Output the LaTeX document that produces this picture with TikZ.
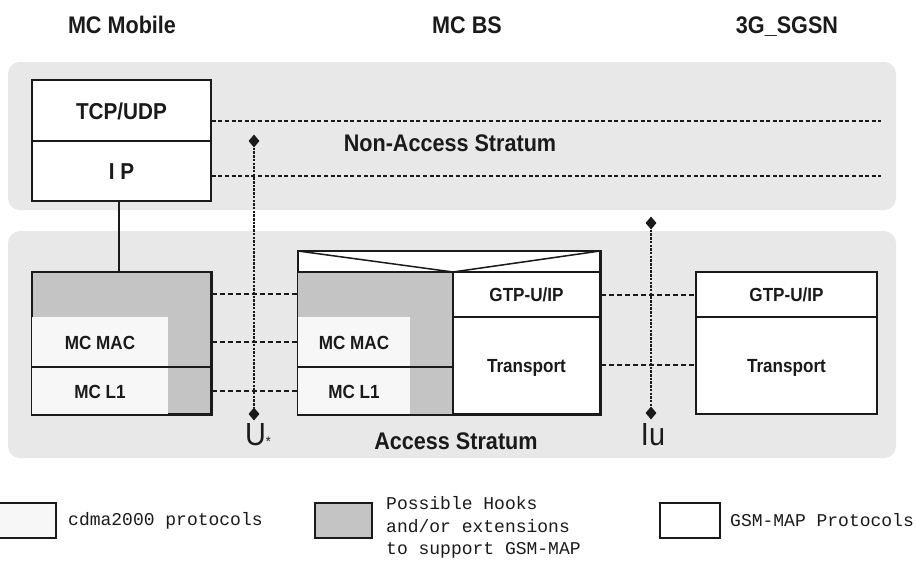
\documentclass[tikz,border=0pt]{standalone}
\usepackage{fontspec}
\setmainfont{Liberation Sans}[FakeStretch=0.9]
\newfontfamily\monof{Liberation Mono}
\usetikzlibrary{shapes.geometric}
\definecolor{panel}{HTML}{E8E8E8}
\definecolor{hook}{HTML}{C4C4C4}
\definecolor{cdma}{HTML}{F7F7F7}
\definecolor{ink}{HTML}{1A1A1A}
\tikzset{
  panelbox/.style={fill=panel, rounded corners=12pt},
  border/.style={draw=ink, line width=1.5pt},
  cell/.style={draw=ink, line width=1.5pt, inner sep=0pt},
  lbl/.style={inner sep=0pt, anchor=base, text=ink, font=\fontsize{19}{22}\selectfont\bfseries},
  biglbl/.style={inner sep=0pt, anchor=base, text=ink, font=\fontsize{23}{26}\selectfont\bfseries},
  head/.style={inner sep=0pt, anchor=base, text=ink, font=\fontsize{24}{28}\selectfont\bfseries},
  iflbl/.style={inner sep=0pt, anchor=base, text=ink, font=\fontsize{32}{36}\selectfont},
  legtxt/.style={inner sep=0pt, text=ink, anchor=west, align=left, font=\fontsize{18}{22.5}\selectfont\monof},
  peerline/.style={draw=ink, line width=1.6pt, dash pattern=on 5pt off 3pt},
  naspeer/.style={draw=ink, line width=1.5pt, dash pattern=on 4pt off 2.6pt},
  ifline/.style={draw=ink, line width=1.6pt, dash pattern=on 2.5pt off 1.2pt},
  dia/.style={diamond, fill=ink, inner sep=0pt, minimum width=11pt, minimum height=13pt},
}
\begin{document}
\begin{tikzpicture}[x=1pt, y=-1pt]
\useasboundingbox (0,0) rectangle (918,568);

% headers
\node[head] (hmob) at (122,33.5) {MC Mobile};
\node[head] (hbs) at (467,33.5) {MC BS};
\node[head] (hsg) at (787,33.5) {3G\_SGSN};

% panels
\fill[panelbox] (8,62) rectangle (896,210);
\fill[panelbox] (8,231) rectangle (896,458);

% upper mobile stack
\node[cell, fill=white, minimum width=179pt, minimum height=61pt] (tcp) at (121.5,110.5) {};
\node[cell, fill=white, minimum width=179pt, minimum height=60pt] (ip) at (121.5,171) {};
\node[biglbl] (tcpt) at (121.5,119) {TCP/UDP};
\node[biglbl] (ipt) at (121.5,179.5) {I P};

% NAS peer lines
\coordinate (nasend1) at (881,121);
\coordinate (nasend2) at (881,176);
\draw[naspeer] (tcp.east |- nasend1) -- (nasend1);
\draw[naspeer] (ip.east |- nasend2) -- (nasend2);
\node[head] (nas) at (450,151.5) {Non-Access Stratum};

% mobile lower stack
\node[cell, fill=hook, minimum width=179pt, minimum height=142pt] (mob) at (121.5,343) {};
\fill[cdma] (32,317) rectangle (168,414);
\draw[border] (32,367) -- (211,367);
\draw[border] (mob.north west) rectangle (mob.south east);
\node[lbl] (mmac) at (100,349) {MC MAC};
\node[lbl] (ml1) at (100,398) {MC L1};
\draw[border] (ip.south -| 119,0) -- (119,272);

% BS
\node[cell, fill=white, minimum width=302pt, minimum height=163pt] (bs) at (449,332.5) {};
\fill[hook] (298,272) rectangle (453,414);
\fill[cdma] (298,317) rectangle (410,414);
\draw[border] (298,272) -- (600,272);
\draw[border] (453,272) -- (453,414);
\draw[border] (298,367) -- (453,367);
\draw[border] (453,317) -- (600,317);
\draw[border] (298,251) -- (453,272) -- (600,251);
\draw[border] (bs.north west) rectangle (bs.south east);
\node[lbl] (bmac) at (354,349) {MC MAC};
\node[lbl] (bl1) at (354,398) {MC L1};
\node[lbl] (bgtp) at (526.5,301.5) {GTP-U/IP};
\node[lbl] (btr) at (526.5,372.5) {Transport};

% SGSN
\node[cell, fill=white, minimum width=181pt, minimum height=142pt] (sg) at (786.5,343) {};
\draw[border] (696,317) -- (877,317);
\node[lbl] (sgtp) at (786.5,301.5) {GTP-U/IP};
\node[lbl] (str) at (786.5,372.5) {Transport};

% peer lines mobile - BS
\coordinate (p1) at (0,294);
\coordinate (p2) at (0,342);
\coordinate (p3) at (0,391);
\coordinate (p4) at (0,295);
\coordinate (p5) at (0,365);
\draw[peerline] (mob.east |- p1) -- (bs.west |- p1);
\draw[peerline] (mob.east |- p2) -- (bs.west |- p2);
\draw[peerline] (mob.east |- p3) -- (bs.west |- p3);
% BS - SGSN
\draw[peerline] (bs.east |- p4) -- (sg.west |- p4);
\draw[peerline] (bs.east |- p5) -- (sg.west |- p5);

% interfaces
\node[dia] (ut) at (254,141) {};
\node[dia] (ub) at (254,414) {};
\draw[ifline] (ut) -- (ub);
\node[dia] (iut) at (651,223) {};
\node[dia] (iub) at (651,413) {};
\draw[ifline] (iut) -- (iub);
\node[iflbl] (ulbl) at (258,445) {U\raisebox{-1pt}{\fontsize{14}{14}\selectfont *}};
\node[iflbl] (iulbl) at (653,445) {Iu};
\node[head] (as) at (456,449.5) {Access Stratum};

% legend
\node[draw=ink, line width=1.3pt, fill=cdma, minimum width=58pt, minimum height=35pt, inner sep=0pt] (lg1) at (27,520.5) {};
\node[legtxt] (lt1) at (68,520.5) {cdma2000 protocols};
\node[draw=ink, line width=1.3pt, fill=hook, minimum width=57pt, minimum height=35pt, inner sep=0pt] (lg2) at (343.5,520.5) {};
\node[legtxt] (lt2) at (386,527.5) {Possible Hooks\\and/or extensions\\to support GSM-MAP};
\node[draw=ink, line width=1.3pt, fill=white, minimum width=60pt, minimum height=35pt, inner sep=0pt] (lg3) at (690,520.5) {};
\node[legtxt] (lt3) at (730,520.5) {GSM-MAP Protocols};
\end{tikzpicture}
\end{document}
